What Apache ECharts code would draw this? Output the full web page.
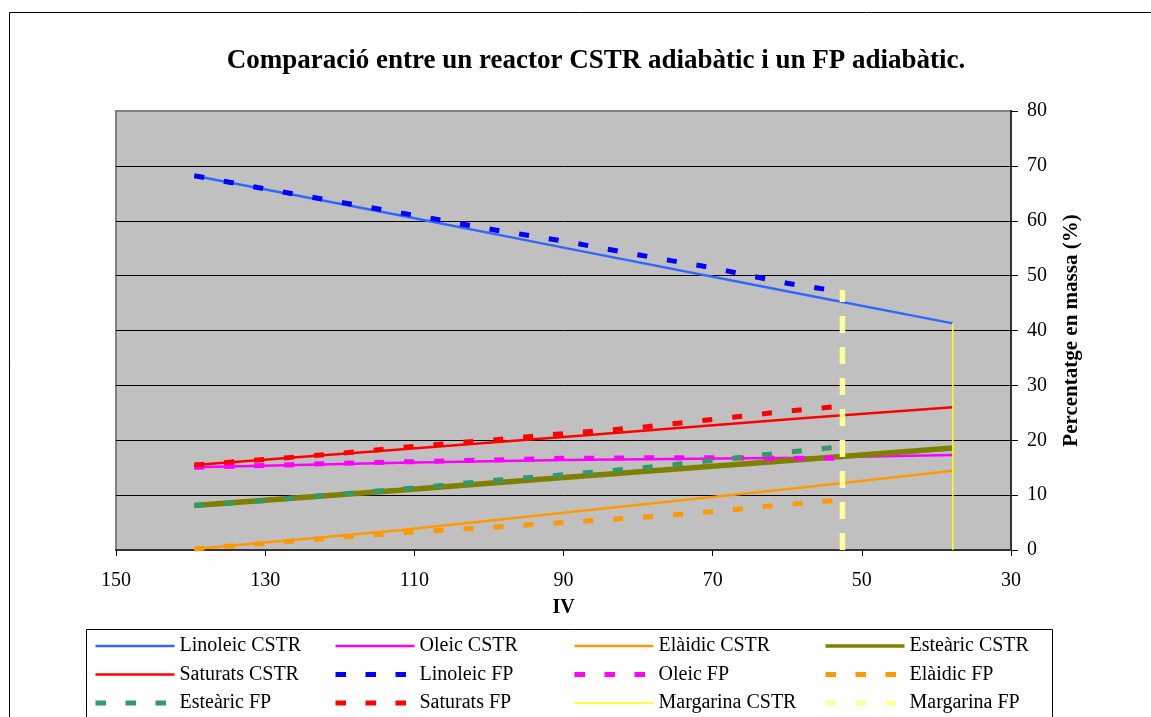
<!DOCTYPE html>
<html>
<head>
<meta charset="utf-8">
<script src="https://cdn.jsdelivr.net/npm/echarts@6/dist/echarts.min.js"></script>
<style>
html,body{margin:0;padding:0;background:#fff;}
#chart{width:1151px;height:717px;}
</style>
</head>
<body>
<div id="chart"></div>
<script>
// ---- Data ----
const titleText = 'Comparació entre un reactor CSTR adiabàtic i un FP adiabàtic.';
const xAxisTitle = 'IV';
const yAxisTitle = 'Percentatge en massa (%)';

const ivCSTR = [139.5, 112, 90, 58, 37.8];
const linoleicCSTR = [68.2, 61.0, 55.1, 46.6, 41.3];
const oleicCSTR    = [15.1, 15.9, 16.4, 16.8, 17.3];
const elaidicCSTR  = [0.2, 3.6, 6.8, 11.4, 14.45];
const estearicCSTR = [8.1, 10.9, 13.2, 16.5, 18.6];
const saturatsCSTR = [15.5, 18.3, 20.6, 24.0, 26.0];

const ivFP = [139.5, 130, 120, 110, 100, 90, 80, 70, 60, 53];
const linoleicFP = [68.2, 65.8, 63.4, 61.0, 58.5, 56.3, 53.8, 51.4, 48.6, 47.1];
const oleicFP    = [15.1, 15.4, 15.8, 16.1, 16.4, 16.7, 16.8, 16.8, 16.7, 16.7];
const elaidicFP  = [0.2, 1.2, 2.3, 3.3, 4.1, 5.0, 5.9, 7.0, 8.3, 9.1];
const estearicFP = [8.1, 9.0, 10.2, 11.3, 12.6, 13.7, 14.9, 16.3, 17.8, 18.8];
const saturatsFP = [15.5, 16.5, 17.6, 18.9, 20.0, 21.2, 22.3, 23.8, 25.3, 26.2];

const ivMargarinaCSTR = [37.8, 37.8];
const margarinaCSTR   = [0, 41.3];
const ivMargarinaFP   = [52.6, 52.6];
const margarinaFP     = [0, 47.4];

const xTicks = {min: 30, max: 150, interval: 20};
const yTicks = {min: 0, max: 80, interval: 10};

// ---- Build ----
const FONT = "'Liberation Serif','Times New Roman',serif";
function pairs(xs, ys){ return xs.map((x,i)=>[x, ys[i]]); }

const DASH = [10, 20];
const seriesDefs = [
  {name:'Linoleic CSTR', xs:ivCSTR, ys:linoleicCSTR, color:'#3366FF', width:2.5, type:'solid'},
  {name:'Oleic CSTR',    xs:ivCSTR, ys:oleicCSTR,    color:'#FF00FF', width:2.5, type:'solid'},
  {name:'Elàidic CSTR',  xs:ivCSTR, ys:elaidicCSTR,  color:'#FF9900', width:2.5, type:'solid'},
  {name:'Esteàric CSTR', xs:ivCSTR, ys:estearicCSTR, color:'#808000', width:5.5, type:'solid'},
  {name:'Saturats CSTR', xs:ivCSTR, ys:saturatsCSTR, color:'#FF0000', width:2.5, type:'solid'},
  {name:'Linoleic FP',   xs:ivFP, ys:linoleicFP, color:'#0000FF', width:5, type:DASH},
  {name:'Oleic FP',      xs:ivFP, ys:oleicFP,    color:'#FF00FF', width:5, type:DASH},
  {name:'Elàidic FP',    xs:ivFP, ys:elaidicFP,  color:'#FF9900', width:5, type:DASH},
  {name:'Esteàric FP',   xs:ivFP, ys:estearicFP, color:'#339966', width:5, type:DASH},
  {name:'Saturats FP',   xs:ivFP, ys:saturatsFP, color:'#FF0000', width:5, type:DASH},
  {name:'Margarina CSTR',xs:ivMargarinaCSTR, ys:margarinaCSTR, color:'#FFFF00', width:1.5, type:'solid'},
  {name:'Margarina FP',  xs:ivMargarinaFP, ys:margarinaFP, color:'#FFFF99', width:5.5, type:[17,14]}
];
const defByName = {};
seriesDefs.forEach(d => defByName[d.name] = d);

const series = seriesDefs.map(d => ({
  name: d.name,
  type: 'line',
  data: pairs(d.xs, d.ys),
  symbol: 'none',
  showSymbol: false,
  smooth: false,
  color: d.color,
  lineStyle: {color: d.color, width: d.width, type: d.type, cap: 'butt'},
  itemStyle: {color: d.color},
  emphasis: {disabled: true},
  animation: false
}));

const legendCols = [
  {left: 93,  names: ['Linoleic CSTR','Saturats CSTR','Esteàric FP']},
  {left: 333, names: ['Oleic CSTR','Linoleic FP','Saturats FP']},
  {left: 572, names: ['Elàidic CSTR','Oleic FP','Margarina CSTR']},
  {left: 823, names: ['Esteàric CSTR','Elàidic FP','Margarina FP']}
];
const legends = legendCols.map(c => ({
  orient: 'vertical',
  left: c.left,
  top: 636,
  padding: 0,
  itemGap: 8.5,
  itemWidth: 79,
  itemHeight: 14,
  selectedMode: false,
  itemStyle: {opacity: 0, borderWidth: 0},
  data: c.names.map(n => {
    const d = defByName[n];
    const legW = d.type === 'solid' ? Math.min(d.width, 3.5) : 5;
    return {
      name: n,
      itemStyle: {opacity: 0, borderWidth: 0},
      lineStyle: {color: d.color, width: legW, type: d.type === 'solid' ? 'solid' : [10.5, 19.5], cap: 'butt', opacity: 1}
    };
  }),
  textStyle: {fontFamily: FONT, fontSize: 20, color: '#000', lineHeight: 20}
}));

const yGridColors = ['#333', '#000', '#000', '#000', '#000', '#000', '#000', '#000', '#808080'];

const chart = echarts.init(document.getElementById('chart'), null, {renderer: 'canvas'});
chart.setOption({
  backgroundColor: '#fff',
  animation: false,
  title: {
    text: titleText,
    left: 596,
    textAlign: 'center',
    top: 48,
    padding: 0,
    textStyle: {fontFamily: FONT, fontSize: 27, fontWeight: 'bold', color: '#000'}
  },
  graphic: [
    {type:'rect', silent:true, z:-10, shape:{x:9.5, y:12.5, width:1180, height:720}, style:{fill:'none', stroke:'#000', lineWidth:1}},
    {type:'rect', silent:true, z:-10, shape:{x:86.5, y:629.5, width:966, height:100}, style:{fill:'none', stroke:'#000', lineWidth:1}}
  ],
  grid: {
    left: 116, right: 140, top: 111, bottom: 167,
    show: true, backgroundColor: '#C0C0C0', borderColor: '#808080', borderWidth: 2,
    containLabel: false
  },
  legend: legends,
  xAxis: {
    type: 'value', inverse: true,
    min: xTicks.min, max: xTicks.max, interval: xTicks.interval,
    name: xAxisTitle, nameLocation: 'middle', nameGap: 48,
    nameTextStyle: {fontFamily: FONT, fontSize: 20, fontWeight: 'bold', color: '#000'},
    axisLine: {show: true, onZero: false, lineStyle: {color: '#333', width: 2}},
    axisTick: {show: true, inside: false, length: 6, lineStyle: {color: '#000', width: 1}},
    axisLabel: {margin: 21, fontFamily: FONT, fontSize: 20, color: '#000'},
    splitLine: {show: false}
  },
  yAxis: {
    type: 'value', position: 'right',
    min: yTicks.min, max: yTicks.max, interval: yTicks.interval,
    name: yAxisTitle, nameLocation: 'middle', nameGap: 50, nameRotate: 90,
    nameTextStyle: {fontFamily: FONT, fontSize: 21, fontWeight: 'bold', color: '#000'},
    axisLine: {show: true, onZero: false, lineStyle: {color: '#333', width: 2}},
    axisTick: {show: true, inside: false, length: 7, lineStyle: {color: '#000', width: 1}},
    axisLabel: {margin: 16, fontFamily: FONT, fontSize: 20, color: '#000'},
    splitLine: {show: true, lineStyle: {color: yGridColors, width: 1}}
  },
  series: series
});
</script>
</body>
</html>
